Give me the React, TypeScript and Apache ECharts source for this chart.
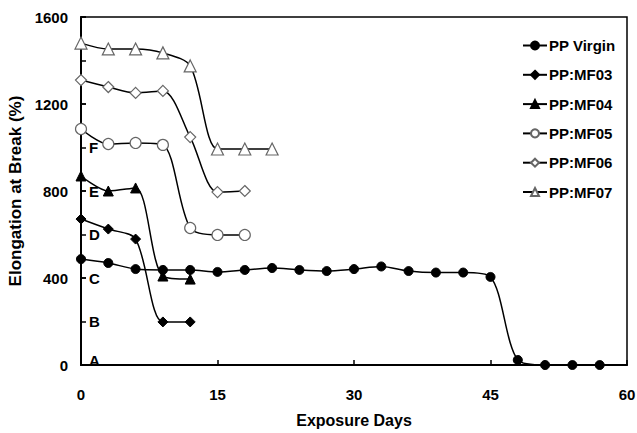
import React, { useEffect, useRef } from "react";
import * as echarts from "echarts";

const days = [0, 3, 6, 9, 12, 15, 18, 21, 24, 27, 30, 33, 36, 39, 42, 45, 48, 51, 54, 57];
const ppVirgin = [487, 469, 441, 437, 437, 428, 437, 446, 437, 432, 441, 453, 432, 425, 425, 405, 23, 0, 0, 0];
const mf03 = [671, 625, 579, 198, 198];
const mf04 = [869, 800, 814, 409, 395];
const mf05 = [1085, 1016, 1021, 1012, 630, 598, 598];
const mf06 = [1310, 1278, 1251, 1260, 1048, 795, 800];
const mf07 = [1480, 1453, 1453, 1435, 1375, 993, 993, 993];
const letterTicks: Record<number, string> = { 0: "{up|A}", 200: "B", 400: "C", 600: "D", 800: "E", 1000: "F" };

const FONT = "'Liberation Sans', Arial, sans-serif";

function pairs(vals: number[]) {
  return vals.map((v, i) => [days[i], v]);
}

export default function App() {
  const ref = useRef<HTMLDivElement>(null);
  useEffect(() => {
    if (!ref.current) return;
    const chart = echarts.init(ref.current, undefined, { renderer: "svg" });
    const lineStyle = { color: "#000", width: 1.5 };
    const filled = { color: "#000", borderColor: "#000", borderWidth: 1 };
    const open = { color: "#fff", borderColor: "#666", borderWidth: 1.2 };
    const mk = (name: string, vals: number[], symbol: string, size: number, item: any) => ({
      name,
      type: "line",
      data: pairs(vals),
      smooth: 0.3,
      symbol,
      symbolSize: size,
      showAllSymbol: true,
      lineStyle,
      itemStyle: item,
      emphasis: { disabled: true },
      z: 3,
    });
    chart.setOption({
      animation: false,
      textStyle: { fontFamily: FONT },
      grid: {
        left: 81, right: 10, top: 17, bottom: 68,
        outerBoundsMode: "none", containLabel: false,
        show: true, borderColor: "#000", borderWidth: 1.5,
      },
      legend: {
        orient: "vertical",
        left: 522,
        top: 38,
        itemWidth: 24,
        itemHeight: 10,
        itemGap: 14.3,
        padding: 0,
        textStyle: { fontFamily: FONT, fontWeight: "bold", fontSize: 15, color: "#000", padding: [0, 0, 0, -3] },
        data: ["PP Virgin", "PP:MF03", "PP:MF04", "PP:MF05", "PP:MF06", "PP:MF07"],
      },
      xAxis: {
        type: "value",
        min: 0,
        max: 60,
        interval: 15,
        name: "Exposure Days",
        nameLocation: "middle",
        nameGap: 47,
        nameTextStyle: { fontFamily: FONT, fontWeight: "bold", fontSize: 16, color: "#000" },
        axisLine: { lineStyle: { color: "#000", width: 2 } },
        axisTick: { inside: true, length: 5, lineStyle: { color: "#000", width: 1.5 } },
        axisLabel: { margin: 22, fontFamily: FONT, fontWeight: "bold", fontSize: 15, color: "#000" },
        splitLine: { show: false },
      },
      yAxis: [
        {
          type: "value",
          min: 0,
          max: 1600,
          interval: 400,
          name: "Elongation at Break (%)",
          nameLocation: "middle",
          nameGap: 56,
          nameTextStyle: { fontFamily: FONT, fontWeight: "bold", fontSize: 17, color: "#000" },
          axisLine: { lineStyle: { color: "#000", width: 2 } },
          axisTick: { inside: true, length: 5, lineStyle: { color: "#000", width: 1.5 } },
          axisLabel: {
            margin: 13, fontFamily: FONT, fontWeight: "bold", fontSize: 15, color: "#000",
            formatter: (v: number) => String(v),
          },
          splitLine: { show: false },
        },
        {
          type: "value",
          position: "left",
          min: 0,
          max: 1600,
          interval: 200,
          axisLine: { show: false },
          axisTick: { show: true, inside: true, length: 5, lineStyle: { color: "#000", width: 1.5 } },
          axisLabel: {
            inside: true,
            margin: 8,
            fontFamily: FONT,
            fontWeight: "bold",
            fontSize: 15,
            color: "#000",
            formatter: (v: number) => letterTicks[v] ?? "",
            rich: { up: { fontFamily: FONT, fontWeight: "bold", fontSize: 15, color: "#000", padding: [0, 0, 10, 0] } },
          },
          splitLine: { show: false },
        },
      ],
      series: [
        mk("PP Virgin", ppVirgin, "circle", 9, filled),
        mk("PP:MF03", mf03, "diamond", 10, filled),
        mk("PP:MF04", mf04, "triangle", 10, filled),
        mk("PP:MF05", mf05, "circle", 11, open),
        mk("PP:MF06", mf06, "diamond", 11, open),
        mk("PP:MF07", mf07, "triangle", 12, open),
      ],
    });
    return () => chart.dispose();
  }, []);
  return <div ref={ref} style={{ width: 637, height: 433, position: "absolute", left: 0, top: 0 }} />;
}
